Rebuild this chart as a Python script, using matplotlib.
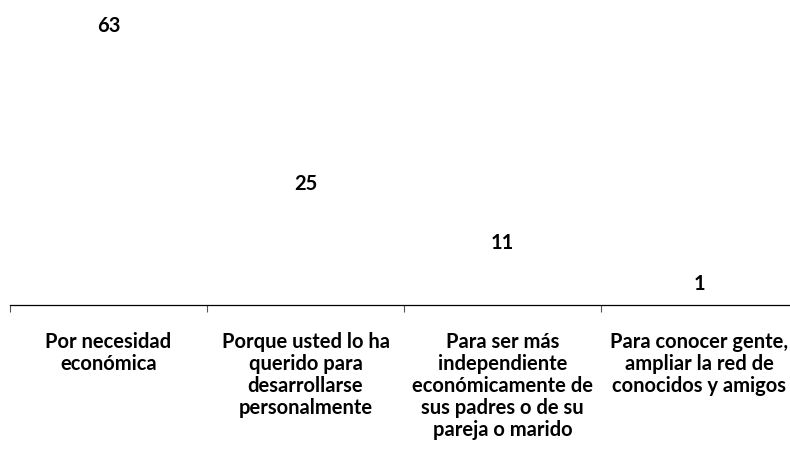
import matplotlib
matplotlib.use("Agg")
import matplotlib.pyplot as plt
import numpy as np

categories = [
    "Por necesidad\neconómica",
    "Porque usted lo ha\nquerido para\ndesarrollarse\npersonalmente",
    "Para ser más\nindependiente\neconómicamente de\nsus padres o de su\npareja o marido",
    "Para conocer gente,\nampliar la red de\nconocidos y amigos",
]
values = [63, 25, 11, 1]

plt.rcParams['font.family'] = ['Lato', 'DejaVu Sans']

W, H = 790, 468
fig = plt.figure(figsize=(W / 100, H / 100), dpi=100)
left_px, right_px = 10, 798
bottom_px = H - 305
top_px = H - 14
ax = fig.add_axes([left_px / W, bottom_px / H, (right_px - left_px) / W, (top_px - bottom_px) / H])

x = np.arange(len(categories))
ax.bar(x, values, width=0.6, color="white")
ax.set_xlim(-0.5, len(categories) - 0.5)
ax.set_ylim(0, 70)

for xi, v in zip(x, values):
    ax.annotate(str(v), (xi, v), xytext=(0, 12), textcoords="offset points",
                ha="center", va="center", fontsize=14.5, fontweight="bold", color="black")

for s in ["top", "right", "left"]:
    ax.spines[s].set_visible(False)
ax.spines["bottom"].set_color("black")
ax.spines["bottom"].set_linewidth(0.9)
ax.set_yticks([])

ax.set_xticks(x)
ax.set_xticklabels(categories, fontsize=14.5, fontweight="bold", linespacing=1.12)
ax.tick_params(axis="x", which="major", length=0, pad=19.5)
ax.set_xticks(np.arange(-0.5, len(categories) + 0.5, 1), minor=True)
ax.tick_params(axis="x", which="minor", length=5, width=0.8, color="#555555")

fig.savefig("out.png", dpi=100)
